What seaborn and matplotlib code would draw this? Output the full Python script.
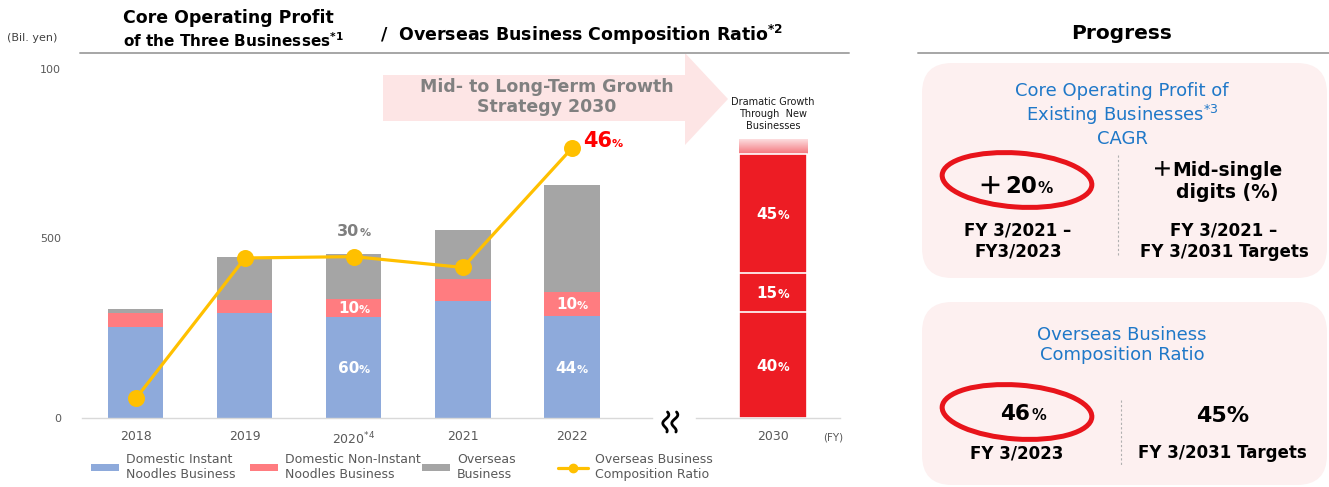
import numpy as np
import pandas as pd
import matplotlib
matplotlib.use("Agg")
import matplotlib.pyplot as plt
import matplotlib.transforms as mtrans
from matplotlib.patches import Polygon, FancyBboxPatch, Ellipse, Patch
from matplotlib.lines import Line2D
from matplotlib.colors import LinearSegmentedColormap
import seaborn as sns

# ---------------- data ----------------
years = ["2018", "2019", "2020", "2021", "2022"]
year_labels = ["2018", "2019", r"2020$^{*4}$", "2021", "2022"]
domestic_instant = [252, 292, 281, 325, 283]
domestic_non_instant = [39, 35, 49, 60, 68]
overseas = [11, 121, 126, 137, 295]
overseas_ratio = [9.1, 29.8, 30.0, 28.4, 46.0]
# share labels printed inside bars (year index -> text)
instant_share_labels = {2: "60", 4: "44"}
non_instant_share_labels = {2: "10", 4: "10"}
ratio_label_years = [2, 4]

target_year = ["2030"]
target_segments = [293, 110, 329]          # domestic instant / non-instant / overseas
target_segment_labels = ["40", "15", "45"]
target_new_business = [42]
yticks = [0, 500, 969]
ytick_labels = ["0", "500", "100"]

# ---------------- style ----------------
BLUE = "#8eaadb"
PINK = "#ff7c80"
GRAY = "#a5a5a5"
YELLOW = "#ffc000"
RED = "#ed1c24"
TXT = "#595959"
BLUE_TXT = "#1f78c8"

sns.set_theme(style="white")
plt.rcParams["font.family"] = ["DejaVu Sans", "Noto Sans CJK JP"]
plt.rcParams["mathtext.fontset"] = "dejavusans"

W, H = 1329, 487
fig = plt.figure(figsize=(W / 100, H / 100), dpi=100)


def fx(x):
    return x / W


def fy(y):
    return 1 - y / H


def ftext(x, y, s, **kw):
    return fig.text(fx(x), fy(y), s, **kw)


YMAX = 994
ax = fig.add_axes([fx(82), fy(418), (652 - 82) / W, (418 - 60) / H])
ax.set_facecolor("none")
ax2 = ax.twinx()
axr = fig.add_axes([fx(696), fy(418), (840 - 696) / W, (418 - 60) / H])
axr.set_facecolor("none")

# ---------------- stacked bars ----------------
df = pd.DataFrame({
    "year": years,
    "instant": domestic_instant,
    "non_instant": domestic_non_instant,
    "overseas": overseas,
    "ratio": overseas_ratio,
})
df["lvl2"] = df["instant"] + df["non_instant"]
df["lvl3"] = df["lvl2"] + df["overseas"]

BW = 0.505
for col, c in [("lvl3", GRAY), ("lvl2", PINK), ("instant", BLUE)]:
    sns.barplot(data=df, x="year", y=col, color=c, width=BW, saturation=1,
                errorbar=None, linewidth=0, ax=ax)

sns.pointplot(data=df, x="year", y="ratio", color=YELLOW, errorbar=None,
              markersize=10.5, linewidth=2.3, ax=ax2)


def pct_text(axis, x, y, num, size, psize, color, dx=0.0, dy=0.0, align="center"):
    nw = len(num) * 0.696 * size
    pw = 1.002 * psize
    if align == "center":
        split = (nw - pw) / 2 + dx
    else:
        split = nw + dx
    base = -0.36 * size + dy
    t = mtrans.offset_copy(axis.transData, fig=fig, x=split, y=base, units="points")
    axis.text(x, y, num, transform=t, ha="right", va="baseline", fontsize=size,
              fontweight="bold", color=color, zorder=5)
    axis.text(x, y, "%", transform=t, ha="left", va="baseline", fontsize=psize,
              fontweight="bold", color=color, zorder=5)


for i, lab in instant_share_labels.items():
    pct_text(ax, i, domestic_instant[i] / 2, lab, 11, 8, "white")
for i, lab in non_instant_share_labels.items():
    pct_text(ax, i, domestic_instant[i] + domestic_non_instant[i] / 2, lab, 11, 8, "white")

# ratio labels
i = ratio_label_years[0]
pct_text(ax2, i, overseas_ratio[i], f"{overseas_ratio[i]:.0f}", 11.5, 8, "#7f7f7f", dy=19)
i = ratio_label_years[1]
pct_text(ax2, i, overseas_ratio[i], f"{overseas_ratio[i]:.0f}", 15, 8, "#ff0000",
         dx=8, dy=6, align="left")

ax.set_xlim(-0.495, 4.734)
ax.set_ylim(0, YMAX)
ax2.set_ylim(6.2, 59.0)
ax.set_xticks(range(len(years)))
ax.set_xticklabels(year_labels)
ax.set_yticks(yticks)
ax.set_yticklabels(ytick_labels)
ax.set_xlabel("")
ax.set_ylabel("")
ax2.set_ylabel("")
ax2.set_yticks([])
ax.tick_params(axis="x", length=0, pad=9, labelsize=9, labelcolor=TXT)
ax.tick_params(axis="y", length=0, pad=15, labelsize=8, labelcolor=TXT)
for s in ["top", "right", "left"]:
    ax.spines[s].set_visible(False)
ax.spines["bottom"].set_color("#d9d9d9")
ax.spines["bottom"].set_linewidth(1)
for s in ax2.spines.values():
    s.set_visible(False)

# ---------------- 2030 target bar ----------------
RW = 0.624
top_total = sum(target_segments) + target_new_business[0]
cum = np.cumsum(target_segments)
sns.barplot(x=target_year, y=[top_total], color="#f9b8bb", width=RW, saturation=1,
            linewidth=0, ax=axr)
fade_patch = axr.patches[0]
fade_patch.set_zorder(0.8)
for val in cum[::-1]:
    sns.barplot(x=target_year, y=[val], color=RED, width=RW, saturation=1,
                edgecolor="white", linewidth=1.2, ax=axr)
x0 = fade_patch.get_x()
x1 = x0 + fade_patch.get_width()
grad = np.linspace(0, 1, 64).reshape(-1, 1)
cmap = LinearSegmentedColormap.from_list("fade", ["#f4767d", "#fde4e5"])
im = axr.imshow(grad, extent=[x0, x1, cum[-1], top_total], origin="lower",
                aspect="auto", cmap=cmap, zorder=0.9, interpolation="bicubic")
im.set_clip_path(fade_patch)

bottoms = np.concatenate([[0], cum[:-1]])
for b, h, lab in zip(bottoms, target_segments, target_segment_labels):
    pct_text(axr, 0, b + h / 2, lab, 11, 8.4, "white")

axr.annotate("Dramatic Growth\nThrough  New\nBusinesses", xy=(0, top_total),
             xytext=(0, 6), textcoords="offset points", ha="center", va="bottom",
             fontsize=7, linespacing=1.25, color="#1a1a1a")

axr.set_xlim(-0.706, 0.615)
axr.set_ylim(0, YMAX)
axr.set_yticks([])
axr.set_xlabel("")
axr.set_ylabel("")
axr.tick_params(axis="x", length=0, pad=9, labelsize=9, labelcolor=TXT)
for s in ["top", "right", "left"]:
    axr.spines[s].set_visible(False)
axr.spines["bottom"].set_color("#d9d9d9")
axr.spines["bottom"].set_linewidth(1)

# ---------------- decorations (left) ----------------
arrow_px = [(383, 75), (685, 75), (685, 53), (728, 99), (685, 145), (685, 121), (383, 121)]
fig.add_artist(Polygon([(fx(x), fy(y)) for x, y in arrow_px], closed=True,
                       transform=fig.transFigure, facecolor="#fde5e5",
                       edgecolor="none", zorder=-1))
ftext(547, 97, "Mid- to Long-Term Growth\nStrategy 2030", ha="center", va="center",
      fontsize=12.5, fontweight="bold", color="#808080", linespacing=1.2)

ftext(123, 18, "Core Operating Profit", ha="left", va="center", fontsize=12.5,
      fontweight="bold", color="black")
ftext(123, 41, r"of the Three Businesses$^{\mathbf{*1}}$", ha="left", va="center",
      fontsize=11, fontweight="bold", color="black")
ftext(380, 35, r"/  Overseas Business Composition Ratio$^{\mathbf{*2}}$", ha="left",
      va="center", fontsize=12.5, fontweight="bold", color="black")
fig.add_artist(Line2D([fx(80), fx(849)], [fy(53), fy(53)], transform=fig.transFigure,
                      color="#a6a6a6", lw=1.4))
ftext(7, 38, "(Bil. yen)", ha="left", va="center", fontsize=8, color="#404040")

# axis-break squiggles
tt = np.linspace(0, 1, 60)
for xc in (665.5, 674.5):
    xs = xc + 2.6 * np.sin(tt * 2 * np.pi * 1.25 + 0.4) + (tt - 0.5) * -2
    ys = 412 + 20 * tt
    fig.add_artist(Line2D(fx(xs), fy(ys), transform=fig.transFigure, color="black",
                          lw=2.0, solid_capstyle="round"))
ftext(833, 437, "(FY)", ha="center", va="center", fontsize=7.5, color=TXT)

# legend
leg_items = [
    (91, Patch(facecolor=BLUE, edgecolor="none"), "Domestic Instant\nNoodles Business", 2.24),
    (250, Patch(facecolor=PINK, edgecolor="none"), "Domestic Non-Instant\nNoodles Business", 2.24),
    (422, Patch(facecolor=GRAY, edgecolor="none"), "Overseas\nBusiness", 2.24),
    (558, Line2D([], [], color=YELLOW, marker="o", lw=2.3, markersize=6),
     "Overseas Business\nComposition Ratio", 2.4),
]
for x, h, lab, hl in leg_items:
    leg = fig.legend(handles=[h], labels=[lab], loc="center left",
                     bbox_to_anchor=(fx(x), fy(467)), frameon=False, fontsize=9,
                     handlelength=hl, handleheight=0.55, handletextpad=0.56,
                     borderpad=0, borderaxespad=0, labelcolor=TXT, labelspacing=0)

# ---------------- right panel ----------------
ftext(1122, 33, "Progress", ha="center", va="center", fontsize=14.5,
      fontweight="bold", color="black")
fig.add_artist(Line2D([fx(918), fx(1329)], [fy(53), fy(53)], transform=fig.transFigure,
                      color="#a6a6a6", lw=1.4))

for (bx, by0, bx1, by1) in [(922, 63, 1327, 278), (922, 302, 1327, 485)]:
    fig.add_artist(FancyBboxPatch((bx, H - by1), bx1 - bx, by1 - by0,
                                  boxstyle="round,pad=0,rounding_size=30",
                                  transform=None, facecolor="#fdf0f0",
                                  edgecolor="none", zorder=-2))

ftext(1122, 115, "Core Operating Profit of\nExisting Businesses$^{*3}$\nCAGR",
      ha="center", va="center", fontsize=13, color=BLUE_TXT, linespacing=1.2)
ftext(1122, 345, "Overseas Business\nComposition Ratio", ha="center", va="center",
      fontsize=13, color=BLUE_TXT, linespacing=1.2)

for x, ya, yb in [(1118, 155, 255), (1121, 400, 465)]:
    fig.add_artist(Line2D([fx(x), fx(x)], [fy(ya), fy(yb)], transform=fig.transFigure,
                          color="#b0b0b0", lw=0.8, ls=(0, (2, 2))))

for cx, cy in [(1017, 180), (1017, 412)]:
    fig.add_artist(Ellipse((cx, H - cy), 150, 54, angle=-4, transform=None,
                           facecolor="none", edgecolor="#e8141b", lw=3.6))

CJK = ["Noto Sans CJK JP", "DejaVu Sans"]
ftext(1002, 193, "\uff0b", ha="right", va="baseline", fontsize=18,
      fontweight="bold", color="black", family=CJK)
ftext(1037, 193, "20", ha="right", va="baseline", fontsize=16.5,
      fontweight="bold", color="black")
ftext(1038, 193, "%", ha="left", va="baseline", fontsize=11, fontweight="bold",
      color="black")
ftext(1018, 241, "FY 3/2021 \u2013\nFY3/2023", ha="center", va="center", fontsize=12,
      fontweight="bold", color="black", linespacing=1.25)
ftext(1173, 175, "\uff0b", ha="right", va="baseline", fontsize=15,
      fontweight="bold", color="black", family=CJK)
ftext(1227, 182, "Mid-single\ndigits (%)", ha="center", va="center",
      fontsize=13.5, fontweight="bold", color="black", linespacing=1.2)
ftext(1224, 241, "FY 3/2021 \u2013\nFY 3/2031 Targets", ha="center", va="center",
      fontsize=12, fontweight="bold", color="black", linespacing=1.25)

ftext(1030, 420, "46", ha="right", va="baseline", fontsize=15.5, fontweight="bold",
      color="black")
ftext(1031, 420, "%", ha="left", va="baseline", fontsize=10.5, fontweight="bold",
      color="black")
ftext(1017, 453, "FY 3/2023", ha="center", va="center", fontsize=12,
      fontweight="bold", color="black")
ftext(1223, 416, "45%", ha="center", va="center", fontsize=16, fontweight="bold",
      color="black")
ftext(1222, 453, "FY 3/2031 Targets", ha="center", va="center", fontsize=12,
      fontweight="bold", color="black")

fig.savefig("out.png", dpi=100)
